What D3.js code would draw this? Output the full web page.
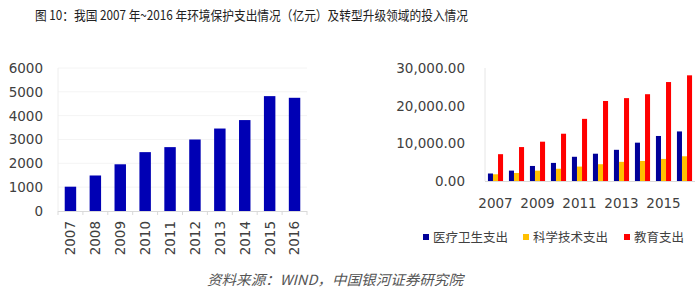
<!DOCTYPE html>
<html>
<head>
<meta charset="utf-8">
<script src="https://cdn.jsdelivr.net/npm/d3@7"></script>
<style>
  body { margin: 0; background: #fff; }
  svg { display: block; }
  text { font-family: "DejaVu Sans", sans-serif; fill: #404040; }
  .cjk { font-family: "Noto Sans CJK SC", sans-serif; }
</style>
</head>
<body>
<script>
// left chart: environmental protection spending
const years = ["2007", "2008", "2009", "2010", "2011", "2012", "2013", "2014", "2015", "2016"];
const envSpend = [1020, 1490, 1960, 2470, 2680, 3000, 3460, 3815, 4820, 4750];
const envTicks = [0, 1000, 2000, 3000, 4000, 5000, 6000];

// right chart: three spending series
const healthSpend = [1990, 2757, 3994, 4804, 6430, 7245, 8280, 10177, 11953, 13159];
const sciSpend = [1783, 2129, 2744, 3250, 3828, 4452, 5084, 5314, 5863, 6564];
const eduSpend = [7122, 9010, 10437, 12550, 16497, 21242, 22002, 23042, 26272, 28056];
const rightTicks = [0, 10000, 20000, 30000];
const rightXLabels = ["2007", "2009", "2011", "2013", "2015"];
const seriesNames = ["医疗卫生支出", "科学技术支出", "教育支出"];
const seriesColors = ["#000099", "#FFC000", "#FF0000"];

const W = 700, H = 295;
const svg = d3.select("body").append("svg").attr("width", W).attr("height", H);

// title
svg.append("text").attr("class", "cjk")
  .attr("x", 35).attr("y", 20)
  .attr("textLength", 433).attr("lengthAdjust", "spacingAndGlyphs")
  .style("font-size", "13px").style("fill", "#222")
  .text("图 10：我国 2007 年~2016 年环境保护支出情况（亿元）及转型升级领域的投入情况");

// ---- left chart ----
const lx = d3.scaleBand().domain(years).range([58, 307]).paddingInner(0.54).paddingOuter(0.27);
const ly = d3.scaleLinear().domain([0, 6000]).range([211, 68]);

const left = svg.append("g");
left.selectAll(".grid").data(envTicks.slice(1)).enter().append("line")
  .attr("x1", 58).attr("x2", 307)
  .attr("y1", d => ly(d)).attr("y2", d => ly(d))
  .attr("stroke", "#f4f4f4");
left.append("line").attr("x1", 58).attr("x2", 58).attr("y1", 68).attr("y2", 211).attr("stroke", "#eeeeee");

left.selectAll("rect").data(envSpend).enter().append("rect")
  .attr("x", (d, i) => lx(years[i]))
  .attr("y", d => ly(d))
  .attr("width", lx.bandwidth())
  .attr("height", d => ly(0) - ly(d))
  .attr("fill", "#0000B4");

left.append("line").attr("x1", 58).attr("x2", 307).attr("y1", 211.5).attr("y2", 211.5).attr("stroke", "#d9d9d9");
const step = (307 - 58) / years.length;
left.selectAll(".tk").data(d3.range(years.length + 1)).enter().append("line")
  .attr("x1", i => 58 + i * step).attr("x2", i => 58 + i * step)
  .attr("y1", 211).attr("y2", 215).attr("stroke", "#d9d9d9");

left.selectAll(".yl").data(envTicks).enter().append("text")
  .attr("x", 43).attr("y", d => ly(d)).attr("dy", "0.36em")
  .attr("text-anchor", "end").style("font-size", "13.5px")
  .text(d => d);

left.selectAll(".xl").data(years).enter().append("text")
  .attr("transform", d => `translate(${lx(d) + lx.bandwidth() / 2},221) rotate(-90)`)
  .attr("text-anchor", "end").attr("dy", "0.36em")
  .style("font-size", "13.5px")
  .text(d => d);

// ---- right chart ----
const rx = d3.scaleBand().domain(years).range([485, 695]).paddingInner(0.28).paddingOuter(0.14);
const rsub = d3.scaleBand().domain([0, 1, 2]).range([0, rx.bandwidth()]);
const ry = d3.scaleLinear().domain([0, 30000]).range([181, 68]);

const right = svg.append("g");
right.append("line").attr("x1", 485).attr("x2", 485).attr("y1", 68).attr("y2", 181).attr("stroke", "#e6e6e6");
right.append("line").attr("x1", 485).attr("x2", 695).attr("y1", 181.5).attr("y2", 181.5).attr("stroke", "#d9d9d9");

[healthSpend, sciSpend, eduSpend].forEach((series, s) => {
  right.selectAll(".s" + s).data(series).enter().append("rect")
    .attr("x", (d, i) => rx(years[i]) + rsub(s))
    .attr("y", d => ry(d))
    .attr("width", rsub.bandwidth())
    .attr("height", d => ry(0) - ry(d))
    .attr("fill", seriesColors[s]);
});

right.selectAll(".yl").data(rightTicks).enter().append("text")
  .attr("x", 465).attr("y", d => ry(d)).attr("dy", "0.36em")
  .attr("text-anchor", "end").style("font-size", "13.5px")
  .text(d => d3.format(",.2f")(d));

right.selectAll(".xl").data(rightXLabels).enter().append("text")
  .attr("x", d => rx(d) + rx.bandwidth() / 2).attr("y", 203).attr("dy", "0.36em")
  .attr("text-anchor", "middle").style("font-size", "13.5px")
  .text(d => d);

// legend
const legendX = [423, 523, 624];
const legend = right.selectAll(".lg").data(seriesNames).enter().append("g")
  .attr("transform", (d, i) => `translate(${legendX[i]},237)`);
legend.append("rect").attr("x", 0).attr("y", -3).attr("width", 6).attr("height", 6)
  .attr("fill", (d, i) => seriesColors[i]);
legend.append("text").attr("class", "cjk")
  .attr("x", 10).attr("dy", "0.36em").style("font-size", "12.5px")
  .text(d => d);

// source
svg.append("text").attr("class", "cjk")
  .attr("x", 207).attr("y", 280).attr("dy", "0.36em")
  .attr("textLength", 256).attr("lengthAdjust", "spacingAndGlyphs")
  .style("font-size", "14px").style("font-style", "italic").style("fill", "#555")
  .text("资料来源：WIND，中国银河证券研究院");
</script>
</body>
</html>
